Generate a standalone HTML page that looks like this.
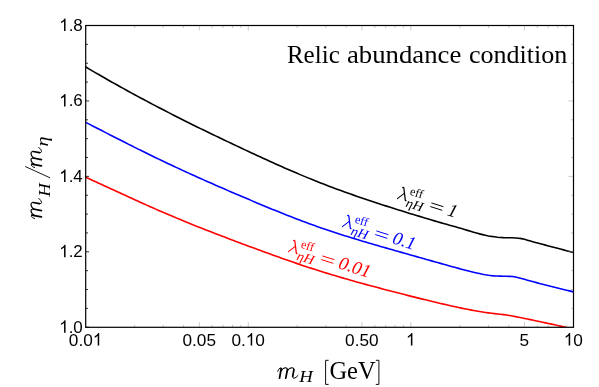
<!DOCTYPE html>
<html><head><meta charset="utf-8"><title>Relic abundance condition</title>
<style>
html,body{margin:0;padding:0;background:#fff;}
body{width:599px;height:387px;overflow:hidden;font-family:"Liberation Sans",sans-serif;}
svg{display:block;will-change:transform;}
</style></head><body>
<svg width="599" height="387" viewBox="0 0 599 387">
<defs><clipPath id="c"><rect x="85.7" y="25.5" width="487.8" height="301.8"/></clipPath></defs>
<rect width="599" height="387" fill="#fff"/>
<g fill="none" stroke-width="1.6" stroke-linejoin="round" clip-path="url(#c)">
<path d="M83.7,65.77 L86.7,67.55 L89.7,69.32 L92.7,71.07 L95.7,72.82 L98.7,74.56 L101.7,76.29 L104.7,78.01 L107.7,79.72 L110.7,81.43 L113.7,83.12 L116.7,84.80 L119.7,86.48 L122.7,88.14 L125.7,89.80 L128.7,91.45 L131.7,93.09 L134.7,94.72 L137.7,96.35 L140.7,97.96 L143.7,99.57 L146.7,101.16 L149.7,102.75 L152.7,104.34 L155.7,105.91 L158.7,107.47 L161.7,109.03 L164.7,110.58 L167.7,112.12 L170.7,113.66 L173.7,115.18 L176.7,116.70 L179.7,118.22 L182.6,119.72 L185.6,121.22 L188.6,122.72 L191.6,124.20 L194.6,125.69 L197.6,127.16 L200.6,128.63 L203.6,130.09 L206.6,131.55 L209.6,133.01 L212.6,134.46 L215.6,135.90 L218.6,137.34 L221.6,138.77 L224.6,140.20 L227.6,141.63 L230.6,143.05 L233.6,144.47 L236.6,145.89 L239.6,147.30 L242.6,148.71 L245.6,150.12 L248.6,151.52 L251.6,152.92 L254.6,154.31 L257.6,155.70 L260.6,157.08 L263.6,158.46 L266.6,159.83 L269.6,161.19 L272.6,162.55 L275.6,163.90 L278.6,165.24 L281.6,166.57 L284.6,167.90 L287.6,169.21 L290.6,170.52 L293.6,171.81 L296.6,173.10 L299.6,174.37 L302.6,175.63 L305.6,176.88 L308.6,178.12 L311.6,179.35 L314.6,180.56 L317.6,181.76 L320.6,182.94 L323.6,184.11 L326.6,185.27 L329.6,186.42 L332.6,187.55 L335.6,188.67 L338.6,189.77 L341.6,190.87 L344.6,191.95 L347.6,193.02 L350.6,194.08 L353.6,195.13 L356.6,196.18 L359.6,197.21 L362.6,198.23 L365.6,199.24 L368.6,200.25 L371.6,201.25 L374.6,202.23 L377.6,203.22 L380.5,204.19 L383.5,205.16 L386.5,206.12 L389.5,207.08 L392.5,208.03 L395.5,208.97 L398.5,209.91 L401.5,210.85 L404.5,211.78 L407.5,212.71 L410.5,213.64 L413.5,214.56 L416.5,215.47 L419.5,216.38 L422.5,217.28 L425.5,218.18 L428.5,219.08 L431.5,219.97 L434.5,220.86 L437.5,221.74 L440.5,222.62 L443.5,223.48 L446.5,224.33 L449.5,225.17 L452.5,226.00 L455.5,226.84 L458.5,227.69 L461.5,228.56 L464.5,229.46 L467.5,230.37 L470.5,231.28 L473.5,232.18 L476.5,233.05 L479.5,233.87 L482.5,234.63 L485.5,235.32 L488.5,235.92 L491.5,236.41 L494.5,236.83 L497.5,237.21 L500.5,237.50 L503.5,237.67 L506.5,237.73 L509.5,237.75 L512.5,237.82 L515.5,237.98 L518.5,238.25 L521.5,238.65 L524.5,239.30 L527.5,240.18 L530.5,241.08 L533.5,241.91 L536.5,242.72 L539.5,243.53 L542.5,244.34 L545.5,245.14 L548.5,245.93 L551.5,246.73 L554.5,247.52 L557.5,248.31 L560.5,249.09 L563.5,249.88 L566.5,250.66 L569.5,251.44 L572.5,252.23 L575.5,253.01" stroke="#000"/>
<path d="M83.7,121.33 L86.7,122.87 L89.7,124.41 L92.7,125.96 L95.7,127.50 L98.7,129.04 L101.7,130.58 L104.7,132.12 L107.7,133.66 L110.7,135.19 L113.7,136.73 L116.7,138.25 L119.7,139.78 L122.7,141.30 L125.7,142.82 L128.7,144.34 L131.7,145.84 L134.7,147.35 L137.7,148.85 L140.7,150.34 L143.7,151.82 L146.7,153.30 L149.7,154.77 L152.7,156.23 L155.7,157.69 L158.7,159.14 L161.7,160.57 L164.7,162.00 L167.7,163.42 L170.7,164.83 L173.7,166.24 L176.7,167.63 L179.7,169.02 L182.6,170.40 L185.6,171.77 L188.6,173.14 L191.6,174.50 L194.6,175.85 L197.6,177.20 L200.6,178.54 L203.6,179.87 L206.6,181.20 L209.6,182.52 L212.6,183.84 L215.6,185.16 L218.6,186.47 L221.6,187.77 L224.6,189.07 L227.6,190.37 L230.6,191.66 L233.6,192.95 L236.6,194.24 L239.6,195.53 L242.6,196.81 L245.6,198.09 L248.6,199.36 L251.6,200.63 L254.6,201.90 L257.6,203.16 L260.6,204.42 L263.6,205.67 L266.6,206.92 L269.6,208.15 L272.6,209.39 L275.6,210.61 L278.6,211.83 L281.6,213.03 L284.6,214.23 L287.6,215.42 L290.6,216.60 L293.6,217.76 L296.6,218.92 L299.6,220.07 L302.6,221.20 L305.6,222.32 L308.6,223.43 L311.6,224.52 L314.6,225.60 L317.6,226.67 L320.6,227.72 L323.6,228.76 L326.6,229.79 L329.6,230.80 L332.6,231.79 L335.6,232.77 L338.6,233.75 L341.6,234.71 L344.6,235.65 L347.6,236.59 L350.6,237.52 L353.6,238.44 L356.6,239.35 L359.6,240.26 L362.6,241.15 L365.6,242.04 L368.6,242.92 L371.6,243.80 L374.6,244.67 L377.6,245.54 L380.5,246.40 L383.5,247.26 L386.5,248.12 L389.5,248.97 L392.5,249.83 L395.5,250.68 L398.5,251.53 L401.5,252.38 L404.5,253.23 L407.5,254.08 L410.5,254.94 L413.5,255.79 L416.5,256.64 L419.5,257.49 L422.5,258.34 L425.5,259.18 L428.5,260.03 L431.5,260.87 L434.5,261.72 L437.5,262.55 L440.5,263.39 L443.5,264.23 L446.5,265.06 L449.5,265.90 L452.5,266.73 L455.5,267.56 L458.5,268.37 L461.5,269.18 L464.5,269.97 L467.5,270.74 L470.5,271.49 L473.5,272.22 L476.5,272.92 L479.5,273.59 L482.5,274.23 L485.5,274.80 L488.5,275.26 L491.5,275.60 L494.5,275.83 L497.5,275.99 L500.5,276.11 L503.5,276.21 L506.5,276.29 L509.5,276.36 L512.5,276.55 L515.5,277.00 L518.5,277.69 L521.5,278.49 L524.5,279.32 L527.5,280.15 L530.5,280.98 L533.5,281.81 L536.5,282.62 L539.5,283.43 L542.5,284.22 L545.5,284.99 L548.5,285.76 L551.5,286.52 L554.5,287.26 L557.5,288.00 L560.5,288.73 L563.5,289.45 L566.5,290.17 L569.5,290.89 L572.5,291.60 L575.5,292.32" stroke="#0000ff"/>
<path d="M83.7,176.38 L86.7,177.72 L89.7,179.07 L92.7,180.43 L95.7,181.79 L98.7,183.15 L101.7,184.53 L104.7,185.90 L107.7,187.28 L110.7,188.66 L113.7,190.04 L116.7,191.43 L119.7,192.81 L122.7,194.19 L125.7,195.57 L128.7,196.95 L131.7,198.33 L134.7,199.70 L137.7,201.07 L140.7,202.43 L143.7,203.79 L146.7,205.14 L149.7,206.48 L152.7,207.81 L155.7,209.14 L158.7,210.45 L161.7,211.76 L164.7,213.05 L167.7,214.33 L170.7,215.60 L173.7,216.86 L176.7,218.12 L179.7,219.36 L182.6,220.59 L185.6,221.82 L188.6,223.03 L191.6,224.24 L194.6,225.44 L197.6,226.64 L200.6,227.82 L203.6,229.00 L206.6,230.18 L209.6,231.35 L212.6,232.51 L215.6,233.67 L218.6,234.82 L221.6,235.96 L224.6,237.11 L227.6,238.25 L230.6,239.38 L233.6,240.51 L236.6,241.64 L239.6,242.77 L242.6,243.90 L245.6,245.02 L248.6,246.14 L251.6,247.25 L254.6,248.36 L257.6,249.47 L260.6,250.57 L263.6,251.67 L266.6,252.77 L269.6,253.86 L272.6,254.94 L275.6,256.02 L278.6,257.09 L281.6,258.16 L284.6,259.21 L287.6,260.27 L290.6,261.31 L293.6,262.35 L296.6,263.37 L299.6,264.39 L302.6,265.40 L305.6,266.40 L308.6,267.39 L311.6,268.38 L314.6,269.35 L317.6,270.31 L320.6,271.26 L323.6,272.20 L326.6,273.13 L329.6,274.05 L332.6,274.95 L335.6,275.85 L338.6,276.74 L341.6,277.62 L344.6,278.49 L347.6,279.35 L350.6,280.21 L353.6,281.06 L356.6,281.90 L359.6,282.73 L362.6,283.55 L365.6,284.37 L368.6,285.19 L371.6,285.99 L374.6,286.80 L377.6,287.59 L380.5,288.39 L383.5,289.17 L386.5,289.96 L389.5,290.74 L392.5,291.51 L395.5,292.29 L398.5,293.06 L401.5,293.82 L404.5,294.59 L407.5,295.35 L410.5,296.11 L413.5,296.87 L416.5,297.62 L419.5,298.37 L422.5,299.11 L425.5,299.84 L428.5,300.58 L431.5,301.30 L434.5,302.02 L437.5,302.73 L440.5,303.43 L443.5,304.13 L446.5,304.82 L449.5,305.50 L452.5,306.18 L455.5,306.84 L458.5,307.49 L461.5,308.12 L464.5,308.74 L467.5,309.33 L470.5,309.90 L473.5,310.46 L476.5,311.00 L479.5,311.52 L482.5,312.01 L485.5,312.48 L488.5,312.91 L491.5,313.30 L494.5,313.64 L497.5,313.95 L500.5,314.26 L503.5,314.59 L506.5,314.98 L509.5,315.47 L512.5,316.06 L515.5,316.65 L518.5,317.24 L521.5,317.83 L524.5,318.42 L527.5,319.02 L530.5,319.64 L533.5,320.27 L536.5,320.91 L539.5,321.56 L542.5,322.21 L545.5,322.86 L548.5,323.50 L551.5,324.15 L554.5,324.81 L557.5,325.46 L560.5,326.12 L563.5,326.79 L566.5,327.45 L569.5,328.11 L572.5,328.78 L575.5,329.43" stroke="#ff0000"/>
</g>
<path d="M85.7,327.25h3.4" stroke="#2a2a2a" stroke-width="0.95"/>
<path d="M573.45,327.25h-5" stroke="#999" stroke-width="0.5"/>
<path d="M85.7,308.39h2.3" stroke="#2a2a2a" stroke-width="0.95"/>
<path d="M573.45,308.39h-2.6" stroke="#999" stroke-width="0.5"/>
<path d="M85.7,289.53h2.3" stroke="#2a2a2a" stroke-width="0.95"/>
<path d="M573.45,289.53h-2.6" stroke="#999" stroke-width="0.5"/>
<path d="M85.7,270.67h2.3" stroke="#2a2a2a" stroke-width="0.95"/>
<path d="M573.45,270.67h-2.6" stroke="#999" stroke-width="0.5"/>
<path d="M85.7,251.81h3.4" stroke="#2a2a2a" stroke-width="0.95"/>
<path d="M573.45,251.81h-5" stroke="#999" stroke-width="0.5"/>
<path d="M85.7,232.95h2.3" stroke="#2a2a2a" stroke-width="0.95"/>
<path d="M573.45,232.95h-2.6" stroke="#999" stroke-width="0.5"/>
<path d="M85.7,214.09h2.3" stroke="#2a2a2a" stroke-width="0.95"/>
<path d="M573.45,214.09h-2.6" stroke="#999" stroke-width="0.5"/>
<path d="M85.7,195.23h2.3" stroke="#2a2a2a" stroke-width="0.95"/>
<path d="M573.45,195.23h-2.6" stroke="#999" stroke-width="0.5"/>
<path d="M85.7,176.38h3.4" stroke="#2a2a2a" stroke-width="0.95"/>
<path d="M573.45,176.38h-5" stroke="#999" stroke-width="0.5"/>
<path d="M85.7,157.52h2.3" stroke="#2a2a2a" stroke-width="0.95"/>
<path d="M573.45,157.52h-2.6" stroke="#999" stroke-width="0.5"/>
<path d="M85.7,138.66h2.3" stroke="#2a2a2a" stroke-width="0.95"/>
<path d="M573.45,138.66h-2.6" stroke="#999" stroke-width="0.5"/>
<path d="M85.7,119.80h2.3" stroke="#2a2a2a" stroke-width="0.95"/>
<path d="M573.45,119.80h-2.6" stroke="#999" stroke-width="0.5"/>
<path d="M85.7,100.94h3.4" stroke="#2a2a2a" stroke-width="0.95"/>
<path d="M573.45,100.94h-5" stroke="#999" stroke-width="0.5"/>
<path d="M85.7,82.08h2.3" stroke="#2a2a2a" stroke-width="0.95"/>
<path d="M573.45,82.08h-2.6" stroke="#999" stroke-width="0.5"/>
<path d="M85.7,63.22h2.3" stroke="#2a2a2a" stroke-width="0.95"/>
<path d="M573.45,63.22h-2.6" stroke="#999" stroke-width="0.5"/>
<path d="M85.7,44.36h2.3" stroke="#2a2a2a" stroke-width="0.95"/>
<path d="M573.45,44.36h-2.6" stroke="#999" stroke-width="0.5"/>
<path d="M85.7,25.50h3.4" stroke="#2a2a2a" stroke-width="0.95"/>
<path d="M573.45,25.50h-5" stroke="#999" stroke-width="0.5"/>
<path d="M85.70,327.25v-5" stroke="#999" stroke-width="0.5"/>
<path d="M85.70,25.5v5" stroke="#999" stroke-width="0.5"/>
<path d="M134.64,327.25v-2.5" stroke="#999" stroke-width="0.5"/>
<path d="M134.64,25.5v2.5" stroke="#999" stroke-width="0.5"/>
<path d="M163.27,327.25v-2.5" stroke="#999" stroke-width="0.5"/>
<path d="M163.27,25.5v2.5" stroke="#999" stroke-width="0.5"/>
<path d="M183.58,327.25v-2.5" stroke="#999" stroke-width="0.5"/>
<path d="M183.58,25.5v2.5" stroke="#999" stroke-width="0.5"/>
<path d="M199.34,327.25v-5" stroke="#999" stroke-width="0.5"/>
<path d="M199.34,25.5v5" stroke="#999" stroke-width="0.5"/>
<path d="M212.21,327.25v-2.5" stroke="#999" stroke-width="0.5"/>
<path d="M212.21,25.5v2.5" stroke="#999" stroke-width="0.5"/>
<path d="M223.10,327.25v-2.5" stroke="#999" stroke-width="0.5"/>
<path d="M223.10,25.5v2.5" stroke="#999" stroke-width="0.5"/>
<path d="M232.53,327.25v-2.5" stroke="#999" stroke-width="0.5"/>
<path d="M232.53,25.5v2.5" stroke="#999" stroke-width="0.5"/>
<path d="M240.84,327.25v-2.5" stroke="#999" stroke-width="0.5"/>
<path d="M240.84,25.5v2.5" stroke="#999" stroke-width="0.5"/>
<path d="M248.28,327.25v-5" stroke="#999" stroke-width="0.5"/>
<path d="M248.28,25.5v5" stroke="#999" stroke-width="0.5"/>
<path d="M297.23,327.25v-2.5" stroke="#999" stroke-width="0.5"/>
<path d="M297.23,25.5v2.5" stroke="#999" stroke-width="0.5"/>
<path d="M325.86,327.25v-2.5" stroke="#999" stroke-width="0.5"/>
<path d="M325.86,25.5v2.5" stroke="#999" stroke-width="0.5"/>
<path d="M346.17,327.25v-2.5" stroke="#999" stroke-width="0.5"/>
<path d="M346.17,25.5v2.5" stroke="#999" stroke-width="0.5"/>
<path d="M361.92,327.25v-5" stroke="#999" stroke-width="0.5"/>
<path d="M361.92,25.5v5" stroke="#999" stroke-width="0.5"/>
<path d="M374.80,327.25v-2.5" stroke="#999" stroke-width="0.5"/>
<path d="M374.80,25.5v2.5" stroke="#999" stroke-width="0.5"/>
<path d="M385.68,327.25v-2.5" stroke="#999" stroke-width="0.5"/>
<path d="M385.68,25.5v2.5" stroke="#999" stroke-width="0.5"/>
<path d="M395.11,327.25v-2.5" stroke="#999" stroke-width="0.5"/>
<path d="M395.11,25.5v2.5" stroke="#999" stroke-width="0.5"/>
<path d="M403.43,327.25v-2.5" stroke="#999" stroke-width="0.5"/>
<path d="M403.43,25.5v2.5" stroke="#999" stroke-width="0.5"/>
<path d="M410.87,327.25v-5" stroke="#999" stroke-width="0.5"/>
<path d="M410.87,25.5v5" stroke="#999" stroke-width="0.5"/>
<path d="M459.81,327.25v-2.5" stroke="#999" stroke-width="0.5"/>
<path d="M459.81,25.5v2.5" stroke="#999" stroke-width="0.5"/>
<path d="M488.44,327.25v-2.5" stroke="#999" stroke-width="0.5"/>
<path d="M488.44,25.5v2.5" stroke="#999" stroke-width="0.5"/>
<path d="M508.75,327.25v-2.5" stroke="#999" stroke-width="0.5"/>
<path d="M508.75,25.5v2.5" stroke="#999" stroke-width="0.5"/>
<path d="M524.51,327.25v-5" stroke="#999" stroke-width="0.5"/>
<path d="M524.51,25.5v5" stroke="#999" stroke-width="0.5"/>
<path d="M537.38,327.25v-2.5" stroke="#999" stroke-width="0.5"/>
<path d="M537.38,25.5v2.5" stroke="#999" stroke-width="0.5"/>
<path d="M548.27,327.25v-2.5" stroke="#999" stroke-width="0.5"/>
<path d="M548.27,25.5v2.5" stroke="#999" stroke-width="0.5"/>
<path d="M557.69,327.25v-2.5" stroke="#999" stroke-width="0.5"/>
<path d="M557.69,25.5v2.5" stroke="#999" stroke-width="0.5"/>
<path d="M566.01,327.25v-2.5" stroke="#999" stroke-width="0.5"/>
<path d="M566.01,25.5v2.5" stroke="#999" stroke-width="0.5"/>
<rect x="85.7" y="25.5" width="487.8" height="301.8" fill="none" stroke="#000" stroke-width="1.2"/>
<g font-family="Liberation Sans, sans-serif" font-size="17.4" fill="#000">
<g transform="translate(82.80,0) scale(0.975,1) translate(-82.80,0)"><path transform="translate(58.61,332.8) scale(0.008496,-0.008496)" d="M763,0H583V1147Q518,1085 412.5,1023Q307,961 223,930V1104Q374,1175 487,1276Q600,1377 647,1472H763Z"/><text x="68.29" y="332.8">.</text><text x="73.12" y="332.8">0</text></g>
<g transform="translate(82.80,0) scale(0.975,1) translate(-82.80,0)"><path transform="translate(58.61,257.3) scale(0.008496,-0.008496)" d="M763,0H583V1147Q518,1085 412.5,1023Q307,961 223,930V1104Q374,1175 487,1276Q600,1377 647,1472H763Z"/><text x="68.29" y="257.3">.</text><text x="73.12" y="257.3">2</text></g>
<g transform="translate(82.80,0) scale(0.975,1) translate(-82.80,0)"><path transform="translate(58.61,181.9) scale(0.008496,-0.008496)" d="M763,0H583V1147Q518,1085 412.5,1023Q307,961 223,930V1104Q374,1175 487,1276Q600,1377 647,1472H763Z"/><text x="68.29" y="181.9">.</text><text x="73.12" y="181.9">4</text></g>
<g transform="translate(82.80,0) scale(0.975,1) translate(-82.80,0)"><path transform="translate(58.61,106.4) scale(0.008496,-0.008496)" d="M763,0H583V1147Q518,1085 412.5,1023Q307,961 223,930V1104Q374,1175 487,1276Q600,1377 647,1472H763Z"/><text x="68.29" y="106.4">.</text><text x="73.12" y="106.4">6</text></g>
<g transform="translate(82.80,0) scale(0.975,1) translate(-82.80,0)"><path transform="translate(58.61,31.0) scale(0.008496,-0.008496)" d="M763,0H583V1147Q518,1085 412.5,1023Q307,961 223,930V1104Q374,1175 487,1276Q600,1377 647,1472H763Z"/><text x="68.29" y="31.0">.</text><text x="73.12" y="31.0">8</text></g>
<g transform="translate(85.60,0) scale(0.99,1) translate(-85.60,0)"><text x="68.67" y="345.6">0</text><text x="78.34" y="345.6">.</text><text x="83.18" y="345.6">0</text><path transform="translate(92.86,345.6) scale(0.008496,-0.008496)" d="M763,0H583V1147Q518,1085 412.5,1023Q307,961 223,930V1104Q374,1175 487,1276Q600,1377 647,1472H763Z"/></g>
<g transform="translate(199.24,0) scale(0.99,1) translate(-199.24,0)"><text x="182.31" y="345.6">0</text><text x="191.99" y="345.6">.</text><text x="196.82" y="345.6">0</text><text x="206.50" y="345.6">5</text></g>
<g transform="translate(248.18,0) scale(0.99,1) translate(-248.18,0)"><text x="231.25" y="345.6">0</text><text x="240.93" y="345.6">.</text><path transform="translate(245.76,345.6) scale(0.008496,-0.008496)" d="M763,0H583V1147Q518,1085 412.5,1023Q307,961 223,930V1104Q374,1175 487,1276Q600,1377 647,1472H763Z"/><text x="255.44" y="345.6">0</text></g>
<g transform="translate(361.82,0) scale(0.99,1) translate(-361.82,0)"><text x="344.89" y="345.6">0</text><text x="354.57" y="345.6">.</text><text x="359.40" y="345.6">5</text><text x="369.08" y="345.6">0</text></g>
<g transform="translate(410.77,0) scale(0.99,1) translate(-410.77,0)"><path transform="translate(405.93,345.6) scale(0.008496,-0.008496)" d="M763,0H583V1147Q518,1085 412.5,1023Q307,961 223,930V1104Q374,1175 487,1276Q600,1377 647,1472H763Z"/></g>
<g transform="translate(524.41,0) scale(0.99,1) translate(-524.41,0)"><text x="519.57" y="345.6">5</text></g>
<g transform="translate(573.35,0) scale(0.99,1) translate(-573.35,0)"><path transform="translate(563.67,345.6) scale(0.008496,-0.008496)" d="M763,0H583V1147Q518,1085 412.5,1023Q307,961 223,930V1104Q374,1175 487,1276Q600,1377 647,1472H763Z"/><text x="573.35" y="345.6">0</text></g>
</g>
<g font-family="Liberation Serif, serif" font-size="26" fill="#000">
<text x="286.9" y="62.6" textLength="52.9" lengthAdjust="spacingAndGlyphs">Relic</text>
<text x="347.0" y="62.6" textLength="114.3" lengthAdjust="spacingAndGlyphs">abundance</text>
<text x="468.9" y="62.6" textLength="98.4" lengthAdjust="spacingAndGlyphs">condition</text>
</g>
<g font-family="Liberation Serif, serif" fill="#000">
<g transform="translate(277,378.7)"><g fill="none" stroke="#000" stroke-linecap="round" stroke-linejoin="round"><path d="M4.2,-10.2 L2.55,-0.6 M10.4,-8.8 L8.75,-0.6 M16.9,-8.8 L15.7,-2.6" stroke-width="1.75"/><path d="M0.7,-7.3 Q1.8,-10.2 3.1,-10.75 Q4.0,-11.0 4.25,-10.0" stroke-width="0.95"/><path d="M3.8,-7.4 Q5.9,-11.0 8.6,-11.0 Q10.4,-11.0 10.45,-8.9" stroke-width="1.1"/><path d="M10.0,-7.4 Q12.2,-11.0 15.0,-11.0 Q16.9,-11.0 16.95,-8.9" stroke-width="1.1"/><path d="M15.7,-2.8 Q15.3,-0.4 17.0,-0.45 Q18.9,-0.6 21.0,-3.2" stroke-width="1.0"/></g></g>
<text x="299.3" y="382.3" font-size="17" font-style="italic" textLength="13.6" lengthAdjust="spacingAndGlyphs">H</text>
<text x="329.4" y="378.6" font-size="25.6" textLength="46.2" lengthAdjust="spacingAndGlyphs">GeV</text>
<path d="M328.6,360.3H325.6V384.4H328.6M375.8,360.3H378.9V384.4H375.8" fill="none" stroke="#000" stroke-width="0.95"/>
</g>
<g font-family="Liberation Serif, serif" fill="#000" transform="translate(42,219) rotate(-90)">
<g transform="translate(-0.4,0)"><g fill="none" stroke="#000" stroke-linecap="round" stroke-linejoin="round"><path d="M4.2,-10.2 L2.55,-0.6 M10.4,-8.8 L8.75,-0.6 M16.9,-8.8 L15.7,-2.6" stroke-width="1.75"/><path d="M0.7,-7.3 Q1.8,-10.2 3.1,-10.75 Q4.0,-11.0 4.25,-10.0" stroke-width="0.95"/><path d="M3.8,-7.4 Q5.9,-11.0 8.6,-11.0 Q10.4,-11.0 10.45,-8.9" stroke-width="1.1"/><path d="M10.0,-7.4 Q12.2,-11.0 15.0,-11.0 Q16.9,-11.0 16.95,-8.9" stroke-width="1.1"/><path d="M15.7,-2.8 Q15.3,-0.4 17.0,-0.45 Q18.9,-0.6 21.0,-3.2" stroke-width="1.0"/></g></g>
<text x="22.3" y="7.5" font-size="17" font-style="italic" textLength="13.6" lengthAdjust="spacingAndGlyphs">H</text>
<path d="M41.2,8 L52.5,-16.8" stroke="#000" stroke-width="0.9" fill="none"/>
<g transform="translate(50.6,0)"><g fill="none" stroke="#000" stroke-linecap="round" stroke-linejoin="round"><path d="M4.2,-10.2 L2.55,-0.6 M10.4,-8.8 L8.75,-0.6 M16.9,-8.8 L15.7,-2.6" stroke-width="1.75"/><path d="M0.7,-7.3 Q1.8,-10.2 3.1,-10.75 Q4.0,-11.0 4.25,-10.0" stroke-width="0.95"/><path d="M3.8,-7.4 Q5.9,-11.0 8.6,-11.0 Q10.4,-11.0 10.45,-8.9" stroke-width="1.1"/><path d="M10.0,-7.4 Q12.2,-11.0 15.0,-11.0 Q16.9,-11.0 16.95,-8.9" stroke-width="1.1"/><path d="M15.7,-2.8 Q15.3,-0.4 17.0,-0.45 Q18.9,-0.6 21.0,-3.2" stroke-width="1.0"/></g></g>
<text x="72.6" y="6.3" font-size="16" font-style="italic" textLength="10" lengthAdjust="spacingAndGlyphs">η</text>
</g>
<g font-family="Liberation Serif, serif" fill="#000" transform="translate(397.3,199.3) rotate(17.5)">
<path d="M1.6,-12.7 Q2.1,-13.7 2.8,-12.8 L7.8,-1.8 Q8.1,-1.0 8.7,-1.3" fill="none" stroke="#000" stroke-width="1.25" stroke-linecap="round"/>
<path d="M4.8,-7.8 L-0.1,-0.7" fill="none" stroke="#000" stroke-width="1.0" stroke-linecap="round"/>
<text x="9.9" y="-8.1" font-size="12.2">eff</text>
<text x="9.4" y="4.5" font-size="13.2" font-style="italic" textLength="17.4" lengthAdjust="spacingAndGlyphs">ηH</text>
<path d="M33.6,-6.8h12.6M33.6,-3.0h12.6" fill="none" stroke="#000" stroke-width="0.9"/>
<text x="51.7" y="0.2" font-size="18.6" font-style="italic">1</text>
</g>
<g font-family="Liberation Serif, serif" fill="#0000ff" transform="translate(342.3,227.3) rotate(17.5)">
<path d="M1.6,-12.7 Q2.1,-13.7 2.8,-12.8 L7.8,-1.8 Q8.1,-1.0 8.7,-1.3" fill="none" stroke="#0000ff" stroke-width="1.25" stroke-linecap="round"/>
<path d="M4.8,-7.8 L-0.1,-0.7" fill="none" stroke="#0000ff" stroke-width="1.0" stroke-linecap="round"/>
<text x="9.9" y="-8.1" font-size="12.2">eff</text>
<text x="9.4" y="4.5" font-size="13.2" font-style="italic" textLength="17.4" lengthAdjust="spacingAndGlyphs">ηH</text>
<path d="M33.6,-6.8h12.6M33.6,-3.0h12.6" fill="none" stroke="#0000ff" stroke-width="0.9"/>
<text x="51.7" y="0.2" font-size="18.6" font-style="italic">0.1</text>
</g>
<g font-family="Liberation Serif, serif" fill="#ff0000" transform="translate(288.3,252.3) rotate(17.5)">
<path d="M1.6,-12.7 Q2.1,-13.7 2.8,-12.8 L7.8,-1.8 Q8.1,-1.0 8.7,-1.3" fill="none" stroke="#ff0000" stroke-width="1.25" stroke-linecap="round"/>
<path d="M4.8,-7.8 L-0.1,-0.7" fill="none" stroke="#ff0000" stroke-width="1.0" stroke-linecap="round"/>
<text x="9.9" y="-8.1" font-size="12.2">eff</text>
<text x="9.4" y="4.5" font-size="13.2" font-style="italic" textLength="17.4" lengthAdjust="spacingAndGlyphs">ηH</text>
<path d="M33.6,-6.8h12.6M33.6,-3.0h12.6" fill="none" stroke="#ff0000" stroke-width="0.9"/>
<text x="51.7" y="0.2" font-size="18.6" font-style="italic">0.01</text>
</g>
</svg>
</body></html>
